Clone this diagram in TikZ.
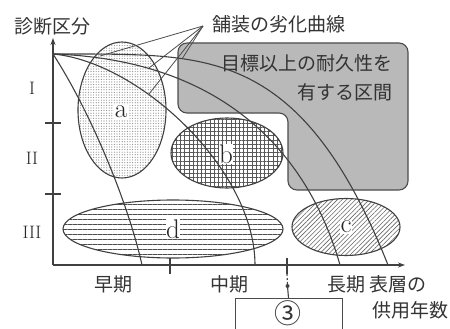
\documentclass[tikz,border=0pt]{standalone}
\usepackage{fontspec}
\newfontfamily\jp{Noto Sans CJK JP}
\usetikzlibrary{shapes.geometric,patterns.meta,arrows.meta}
\begin{document}
\begin{tikzpicture}[x=1pt,y=-1pt,
  ln/.style={draw=black!75, line width=1.1pt},
  lead/.style={draw=black!70, line width=0.8pt},
  jpt/.style={font=\jp\fontsize{19}{21}\selectfont, text=black!80, inner sep=0pt},
  roman/.style={font=\fontsize{18}{20}\selectfont, text=black!85, inner sep=0pt},
  lett/.style={font=\fontsize{27}{29}\selectfont, text=black!85, fill=white, inner sep=0.5pt},
  ell/.style={ellipse, draw=black!75, line width=1.1pt, inner sep=0pt},
  ]
\useasboundingbox (0,0) rectangle (450,329);
\clip (0,0) rectangle (450,329);

% gray region
\draw[fill=gray!55, draw=black!70, line width=1.1pt, rounded corners=9pt]
  (178,43) -- (408,43) -- (408,190) -- (288,190) -- (288,113) -- (178,113) -- cycle;
\node[jpt, anchor=east] (t1) at (393,63) {目標以上の耐久性を};
\node[jpt, anchor=east] (t2) at (393,92) {有する区間};

% ellipses
\node[ell, minimum width=88, minimum height=136,
  pattern={Dots[distance=2.6pt,radius=0.6pt]}, pattern color=black!45] (ea) at (122,110) {};
\node[ell, minimum width=112, minimum height=70,
  pattern={Hatch[distance=4.2pt,angle=0,line width=0.8pt]}, pattern color=black!65] (eb) at (227,153) {};
\node[ell, minimum width=108, minimum height=57,
  pattern={Lines[distance=3.2pt,angle=45,line width=0.6pt]}, pattern color=black!60] (ec) at (346,227) {};
\node[ell, minimum width=220, minimum height=58,
  pattern={Lines[distance=5pt,angle=0,line width=0.7pt]}, pattern color=black!70] (ed) at (173,229) {};

\node[lett] (la) at (121,112) {a};
\node[lett] (lb) at (226,154) {b};
\node[lett] (lc) at (346,227) {c};
\node[lett] (ld) at (173,229) {d};

% deterioration curves
\coordinate (O) at (53,54);
\coordinate (E1) at (142,265);
\coordinate (E2) at (255,265);
\coordinate (E3) at (340,265);
\coordinate (E4) at (388,265);
\draw[ln] (O) .. controls (90,111) and (128,202) .. (E1);
\draw[ln] (O) .. controls (140,62) and (255,170) .. (E2);
\draw[ln] (O) .. controls (230,60) and (310,160) .. (E3);
\draw[ln] plot[domain=0:1, samples=60, smooth] ({53+335*\x},{54+211*\x^4});

% leader lines
\node[jpt, anchor=west] (title2) at (212,24) {舗装の劣化曲線};
\coordinate (L) at (203,26);
\draw[lead] (L) -- (100,56);
\draw[lead] (L) -- (149,68);
\draw[lead] (L) -- (149,94);
\draw[lead] (L) -- (182,59);

% axes
\coordinate (AO) at (53,265);
\coordinate (YT) at (53,38);
\coordinate (XT) at (405,265);
\draw[ln, -{Stealth[length=7pt,width=5pt]}] (AO) -- (YT);
\draw[ln, -{Stealth[length=7pt,width=5pt]}] (AO) -- (XT);
\draw[ln] (45,123) -- (61,123);
\draw[ln] (45,194) -- (61,194);
\draw[ln] (170,258) -- (170,274);
\draw[ln] (287,258) -- (287,274);

\node[jpt] (title1) at (52,26) {診断区分};
\node[roman] (r1) at (32,88) {I};
\node[roman] (r2) at (32,158) {II};
\node[roman] (r3) at (32,232) {III};

\node[jpt] (x1) at (113,284) {早期};
\node[jpt] (x2) at (229,284) {中期};
\node[jpt] (x3) at (346,284) {長期};
\node[jpt] (x4) at (398,284) {表層の};
\node[jpt] (x5) at (410,310) {供用年数};

% marker to box
\node[draw=black!70, line width=1pt, minimum width=107, minimum height=42, anchor=north, inner sep=0pt] (bx) at (288.5,298) {};
\node[font=\jp\fontsize{27}{29}\selectfont, text=black!80, inner sep=0pt] (n3) at (288,313) {③};
\node[circle, fill=black!75, inner sep=0pt, minimum size=4pt] (dot) at (287.5,286) {};
\draw[ln, dashed, dash pattern=on 2pt off 2pt] (287,274) -- (dot);
\draw[ln] (dot) -- (bx.north);
\end{tikzpicture}
\end{document}
